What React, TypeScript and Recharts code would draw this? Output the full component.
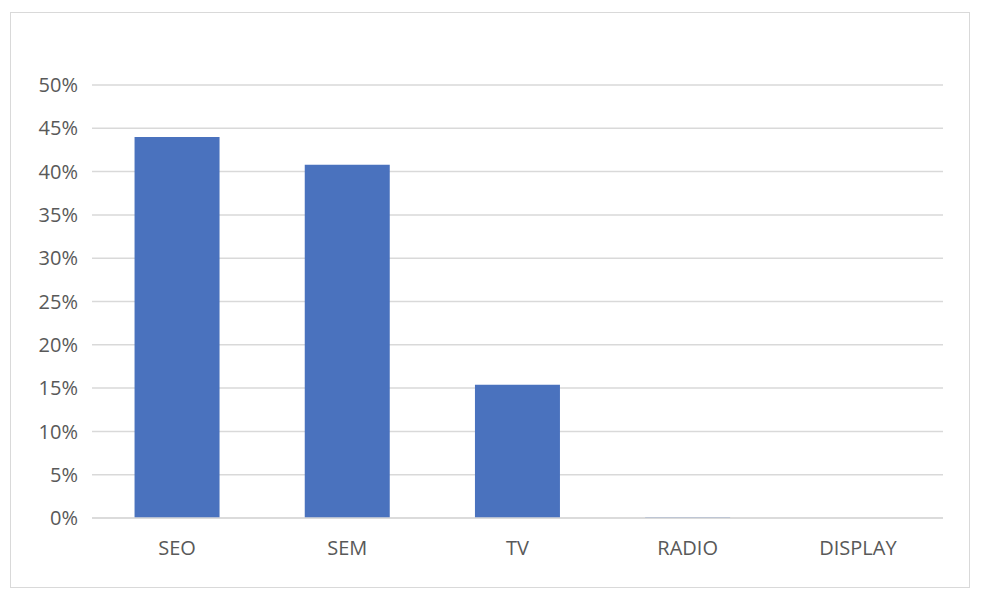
import React from "react";
import { BarChart, Bar, XAxis, YAxis, CartesianGrid } from "recharts";

const categories = ["SEO", "SEM", "TV", "RADIO", "DISPLAY"];
const shares = [44.0, 40.8, 15.4, 0.1, 0];
const yTicks = [0, 5, 10, 15, 20, 25, 30, 35, 40, 45, 50];

const data = categories.map((name, i) => ({ name, value: shares[i] }));

const FONT = "'Open Sans', 'Noto Sans', sans-serif";

export default function App() {
  return (
    <div style={{ position: "absolute", left: 0, top: 0, width: 982, height: 600, background: "#fff" }}>
      <div
        style={{
          position: "absolute",
          left: 10,
          top: 12,
          width: 960,
          height: 576,
          border: "1px solid #d9d9d9",
          boxSizing: "border-box",
        }}
      />
      <div style={{ position: "absolute", left: 0, top: 0 }}>
        <BarChart
          width={982}
          height={600}
          data={data}
          margin={{ top: 85, right: 39, bottom: 42, left: 0 }}
          barCategoryGap="25%"
        >
          <CartesianGrid vertical={false} stroke="#d9d9d9" strokeWidth={1.5} />
          <XAxis
            dataKey="name"
            height={40}
            axisLine={{ stroke: "#d9d9d9", strokeWidth: 1.5 }}
            tickLine={false}
            tickSize={0}
            tickMargin={23}
            tick={{ fill: "#595959", fontSize: 20, fontFamily: FONT }}
          />
          <YAxis
            width={92}
            domain={[0, 50]}
            ticks={yTicks}
            interval={0}
            axisLine={false}
            tickLine={false}
            tickSize={0}
            tickMargin={14}
            tickFormatter={(v: number) => `${v}%`}
            tick={{ fill: "#595959", fontSize: 20, fontFamily: FONT }}
          />
          <Bar dataKey="value" fill="#4A72BE" isAnimationActive={false} />
        </BarChart>
      </div>
    </div>
  );
}
